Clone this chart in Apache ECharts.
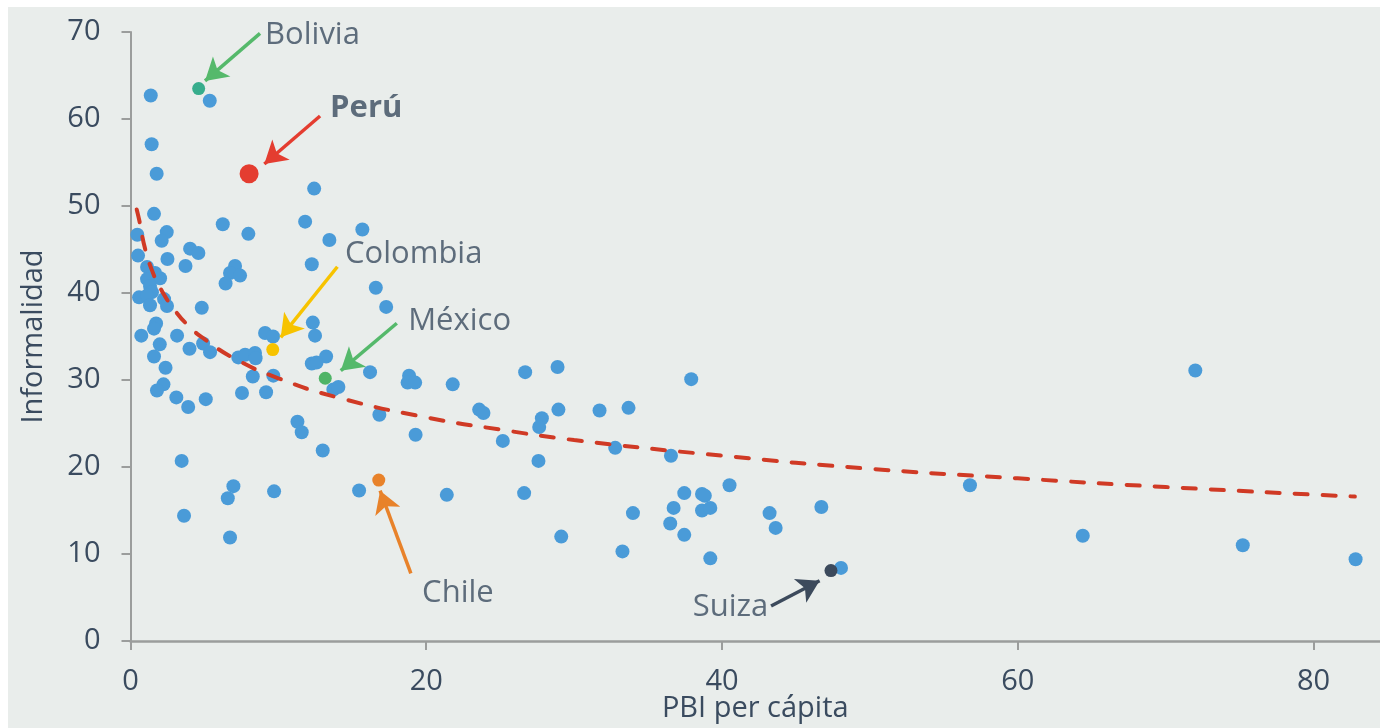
<!DOCTYPE html>
<html>
<head>
<meta charset="utf-8">
<script src="https://cdn.jsdelivr.net/npm/echarts@6/dist/echarts.min.js"></script>
<style>
  html, body { margin: 0; padding: 0; background: #ffffff; }
  #chart { position: absolute; left: 8px; top: 7px; width: 1372px; height: 721px; background: #e9edeb; }
</style>
</head>
<body>
<div id="chart"></div>
<script>
// PBI per cápita vs informalidad, un punto por país
var pbiX = [1.37, 5.36, 1.43, 1.77, 12.42, 1.59, 6.24, 11.81, 15.68, 7.97,
  0.46, 2.45, 2.11, 13.45, 4.03, 4.59, 0.51, 2.50, 12.26, 3.72,
  7.07, 6.73, 7.41, 6.43, 16.59, 1.12, 1.66, 2.00, 1.12, 1.32,
  1.45, 0.58, 1.12, 1.32, 2.27, 2.47, 4.82, 17.29, 12.33, 1.73,
  1.59, 0.73, 3.15, 9.10, 9.64, 12.48, 1.98, 3.99, 4.91, 5.38,
  1.59, 7.29, 7.75, 8.42, 8.46, 13.23, 12.26, 12.58, 2.37, 16.20,
  26.69, 28.88, 37.92, 72.01, 8.27, 9.66, 13.72, 14.06, 18.84, 18.74,
  19.25, 21.79, 2.23, 1.79, 3.10, 7.54, 9.17, 5.09, 3.90, 16.83,
  23.58, 23.87, 31.72, 33.68, 28.94, 27.82, 27.64, 11.29, 11.58, 19.28,
  25.18, 32.78, 13.00, 3.46, 27.59, 36.55, 6.96, 56.77, 40.51, 15.46,
  9.71, 26.62, 21.39, 37.45, 38.65, 38.84, 6.58, 36.73, 38.65, 39.21,
  43.22, 46.72, 33.98, 3.62, 36.50, 43.63, 37.45, 6.73, 29.13, 64.40,
  75.22, 33.27, 39.21, 82.85, 48.05];
var informalY = [62.7, 62.1, 57.1, 53.7, 52.0, 49.1, 47.9, 48.2, 47.3, 46.8,
  46.7, 47.0, 46.0, 46.1, 45.1, 44.6, 44.3, 43.9, 43.3, 43.1,
  43.1, 42.3, 42.0, 41.1, 40.6, 43.0, 42.3, 41.7, 41.6, 40.8,
  40.1, 39.5, 39.7, 38.6, 39.3, 38.5, 38.3, 38.4, 36.6, 36.5,
  35.9, 35.1, 35.1, 35.4, 35.0, 35.1, 34.1, 33.6, 34.2, 33.2,
  32.7, 32.6, 32.9, 33.1, 32.5, 32.7, 31.9, 32.0, 31.4, 30.9,
  30.9, 31.5, 30.1, 31.1, 30.4, 30.5, 28.9, 29.2, 30.5, 29.7,
  29.7, 29.5, 29.5, 28.8, 28.0, 28.5, 28.6, 27.8, 26.9, 26.0,
  26.6, 26.2, 26.5, 26.8, 26.6, 25.6, 24.6, 25.2, 24.0, 23.7,
  23.0, 22.2, 21.9, 20.7, 20.7, 21.3, 17.8, 17.9, 17.9, 17.3,
  17.2, 17.0, 16.8, 17.0, 16.9, 16.7, 16.4, 15.3, 15.0, 15.3,
  14.7, 15.4, 14.7, 14.4, 13.5, 13.0, 12.2, 11.9, 12.0, 12.1,
  11.0, 10.3, 9.5, 9.4, 8.4];

// países resaltados
var paises = ["Bolivia", "Perú", "Colombia", "México", "Chile", "Suiza"];
var paisX = [4.61, 8.02, 9.62, 13.17, 16.79, 47.37];
var paisY = [63.5, 53.7, 33.5, 30.2, 18.5, 8.1];

// línea de tendencia
var tendX = [0.42, 0.6, 1, 1.5, 2, 3, 4, 5, 7, 10, 14, 20, 25, 30, 40, 50, 60, 70, 82.8];
var tendY = [49.6, 48.3, 45.0, 42.4, 40.6, 38.0, 36.1, 34.7, 32.5, 30.2, 28.0, 25.7, 24.3, 23.1, 21.3, 19.8, 18.7, 17.7, 16.6];

var colores = {
  "Bolivia": "#37ad8c",
  "Perú": "#e43d30",
  "Colombia": "#f7c300",
  "México": "#4fb466",
  "Chile": "#e8822a",
  "Suiza": "#3c4a5c"
};
var flechas = {
  "Bolivia": "#55b96b",
  "Perú": "#e43d30",
  "Colombia": "#f7c300",
  "México": "#55b96b",
  "Chile": "#e8822a",
  "Suiza": "#3c4a5c"
};

// anotaciones: texto y flecha (en unidades de los ejes)
var notas = [
  { pais: "Bolivia", texto: [9.10, 69.66], desde: [8.76, 69.85], hasta: [5.04, 64.38] },
  { pais: "Perú", texto: [13.50, 61.26], desde: [12.82, 60.34], hasta: [9.05, 54.83] },
  { pais: "Colombia", texto: [14.51, 44.48], desde: [13.99, 43.02], hasta: [10.16, 34.91] },
  { pais: "México", texto: [18.78, 36.78], desde: [18.01, 36.52], hasta: [14.22, 31.07] },
  { pais: "Chile", texto: [19.72, 5.52], desde: [18.96, 7.78], hasta: [16.88, 17.28] },
  { pais: "Suiza", texto: [43.13, 3.91], desde: [43.32, 4.02], hasta: [46.60, 6.93], derecha: true }
];

var textColor = "#3a4b5f";
var fontFam = "'Open Sans', 'Noto Sans', sans-serif";

var puntos = pbiX.map(function (x, i) { return [x, informalY[i]]; });
var tendencia = tendX.map(function (x, i) { return [x, tendY[i]]; });

var seriesPaises = paises.map(function (p, i) {
  return {
    name: p,
    type: "scatter",
    z: 5,
    symbolSize: p === "Perú" ? 19 : 13,
    itemStyle: { color: colores[p], opacity: 1 },
    data: [[paisX[i], paisY[i]]]
  };
});

var chart = echarts.init(document.getElementById("chart"));
chart.setOption({
  animation: false,
  textStyle: { fontFamily: fontFam },
  grid: { left: 122.5, right: 0, top: 25, bottom: 87, containLabel: false, outerBoundsMode: "none" },
  xAxis: {
    type: "value",
    min: 0,
    max: 84.5,
    interval: 20,
    name: "PBI per cápita",
    nameLocation: "middle",
    nameGap: 53,
    nameMoveOverlap: false,
    nameTextStyle: { color: textColor, fontSize: 29, fontFamily: fontFam },
    axisLine: { lineStyle: { color: "#9b9d9c", width: 2.5 } },
    axisTick: { length: 9, lineStyle: { color: "#9b9d9c", width: 2 } },
    axisLabel: { color: textColor, fontSize: 29, margin: 26, showMaxLabel: false, fontFamily: fontFam },
    splitLine: { show: false }
  },
  yAxis: {
    type: "value",
    min: 0,
    max: 70,
    interval: 10,
    name: "Informalidad",
    nameLocation: "middle",
    nameGap: 82,
    nameMoveOverlap: false,
    nameTextStyle: { color: textColor, fontSize: 29, fontFamily: fontFam },
    axisLine: { show: true, lineStyle: { color: "#9b9d9c", width: 2 } },
    axisTick: { show: true, length: 9, lineStyle: { color: "#9b9d9c", width: 2 } },
    axisLabel: { color: textColor, fontSize: 29, margin: 30, fontFamily: fontFam },
    splitLine: { show: false }
  },
  series: [
    {
      name: "Países",
      type: "scatter",
      symbolSize: 14,
      itemStyle: { color: "#4a9bd8", opacity: 1 },
      data: puntos
    },
    {
      name: "Tendencia",
      type: "line",
      z: 4,
      smooth: true,
      showSymbol: false,
      lineStyle: { color: "#d03a25", width: 4, type: [13, 15], cap: "round" },
      data: tendencia
    }
  ].concat(seriesPaises).concat([
    {
      name: "Notas",
      type: "scatter",
      z: 6,
      symbolSize: 0,
      silent: true,
      data: notas.map(function (n) {
        return {
          value: n.texto,
          label: {
            show: true,
            position: [0, 0],
            formatter: n.pais,
            align: n.derecha ? "right" : "left",
            verticalAlign: "middle",
            color: textColor,
            fontSize: 31,
            fontFamily: fontFam,
            fontWeight: n.pais === "Perú" ? "bold" : "normal"
          }
        };
      }),
      markLine: {
        silent: true,
        symbol: ["none", "arrow"],
        symbolSize: [20, 22],
        label: { show: false },
        data: notas.map(function (n) {
          return [
            { coord: n.desde, lineStyle: { color: flechas[n.pais], width: 3.5, type: "solid" } },
            { coord: n.hasta }
          ];
        })
      }
    }
  ])
});
</script>
</body>
</html>
